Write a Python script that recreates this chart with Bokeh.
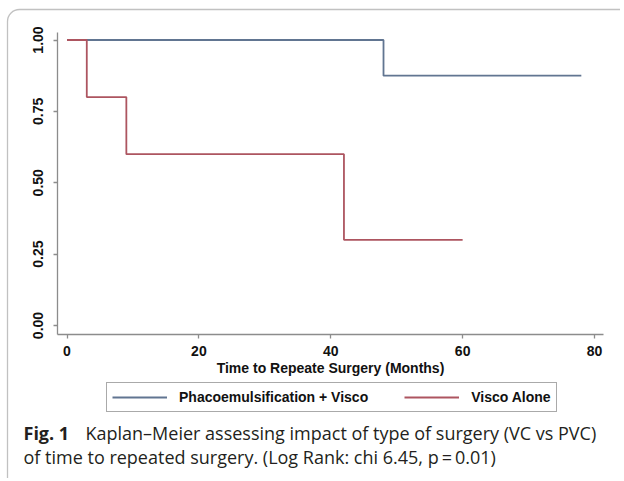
from bokeh.plotting import figure
from bokeh.models import (Range1d, FixedTicker, NumeralTickFormatter, Legend, LegendItem,
                          Label, BoxAnnotation, LinearAxis)
from bokeh.embed import file_html
from bokeh.resources import INLINE

# ---- data ----
time_pv = [0, 48, 78]
surv_pv = [1.0, 0.875, 0.875]
time_v = [0, 3, 9, 42, 60]
surv_v = [1.0, 0.8, 0.6, 0.3, 0.3]
x_ticks = [0, 20, 40, 60, 80]
y_ticks = [0.0, 0.25, 0.5, 0.75, 1.0]
series_names = ["Phacoemulsification + Visco", "Visco Alone"]
x_title = "Time to Repeate Surgery (Months)"
caption_bold = "Fig. 1"
caption_line1 = "Kaplan\u2013Meier assessing impact of type of surgery (VC vs PVC)"
caption_line2 = "of time to repeated surgery. (Log Rank: chi 6.45, p\u2009=\u20090.01)"

BLUE = "#617591"
RED = "#ad5560"
AXIS = "#8c8c8c"
FONT = "Liberation Sans"
CAP_FONT = "Open Sans"

W, H = 620, 478
X0_PX, X_SCALE = 66.5, 6.594     # pixel of x=0, pixels per month
Y0_PX, Y_SCALE = 325.0, 285.5    # pixel of y=0, pixels per unit survival


def dx(px):
    return (px - X0_PX) / X_SCALE


def dy(py):
    return (Y0_PX - py) / Y_SCALE


p = figure(width=W, height=H, output_backend="svg", toolbar_location=None,
           x_range=Range1d(dx(0), dx(W)), y_range=Range1d(dy(H), dy(0)),
           x_axis_location=None, y_axis_location=None, min_border=0)
p.outline_line_color = None
p.background_fill_color = "white"
p.border_fill_color = "white"
p.grid.visible = False

x_lo, x_hi = dx(57), dx(603)
y_lo, y_hi = dy(334), dy(32)

xaxis = LinearAxis(fixed_location=y_lo, bounds=(x_lo, x_hi),
                   ticker=FixedTicker(ticks=x_ticks))
yaxis = LinearAxis(fixed_location=x_lo, bounds=(y_lo, y_hi),
                   ticker=FixedTicker(ticks=y_ticks),
                   formatter=NumeralTickFormatter(format="0.00"))
for ax in (xaxis, yaxis):
    ax.axis_line_color = AXIS
    ax.axis_line_width = 1.3
    ax.major_tick_line_color = AXIS
    ax.major_tick_line_width = 1.3
    ax.major_tick_out = 4
    ax.major_tick_in = 0
    ax.minor_tick_line_color = None
    ax.major_label_text_font = FONT
    ax.major_label_text_font_style = "bold"
    ax.major_label_text_font_size = "14px"
    ax.major_label_text_color = "#111111"
yaxis.major_label_orientation = "vertical"
yaxis.major_label_standoff = 11
xaxis.major_label_standoff = 7
xaxis.axis_label = x_title
xaxis.axis_label_text_font = FONT
xaxis.axis_label_text_font_style = "bold"
xaxis.axis_label_text_font_size = "14px"
xaxis.axis_label_text_color = "#111111"
xaxis.axis_label_standoff = 1
p.add_layout(xaxis, "below")
p.add_layout(yaxis, "left")

r1 = p.step(time_pv, surv_pv, mode="after", line_color=BLUE, line_width=1.8)
r2 = p.step(time_v, surv_v, mode="after", line_color=RED, line_width=1.8)

legend = Legend(items=[LegendItem(label=series_names[0], renderers=[r1]),
                       LegendItem(label=series_names[1], renderers=[r2])],
                orientation="horizontal", location=(106, H - 412),
                label_text_font=FONT, label_text_font_style="bold",
                label_text_font_size="14px", label_text_color="#111111",
                glyph_width=55, glyph_height=18, label_height=18,
                label_standoff=12, spacing=36, padding=5, margin=0,
                border_line_color="#555555", border_line_width=1.2,
                background_fill_alpha=1)
p.add_layout(legend, "center")

p.add_layout(Label(x=dx(23), y=dy(444), text=caption_bold, text_font=CAP_FONT,
                   text_font_style="bold", text_font_size="18px", text_color="#231f20"))
p.add_layout(Label(x=dx(85), y=dy(444), text=caption_line1, text_font=CAP_FONT,
                   text_font_size="18px", text_color="#231f20"))
p.add_layout(Label(x=dx(23), y=dy(468), text=caption_line2, text_font=CAP_FONT,
                   text_font_size="18px", text_color="#231f20"))

p.add_layout(BoxAnnotation(left=dx(7), right=dx(660), top=dy(9), bottom=dy(505),
                           fill_alpha=0, line_color="#333333", line_width=1.3,
                           border_radius=12, level="overlay"))

open("out.html", "w").write(file_html(p, INLINE))
